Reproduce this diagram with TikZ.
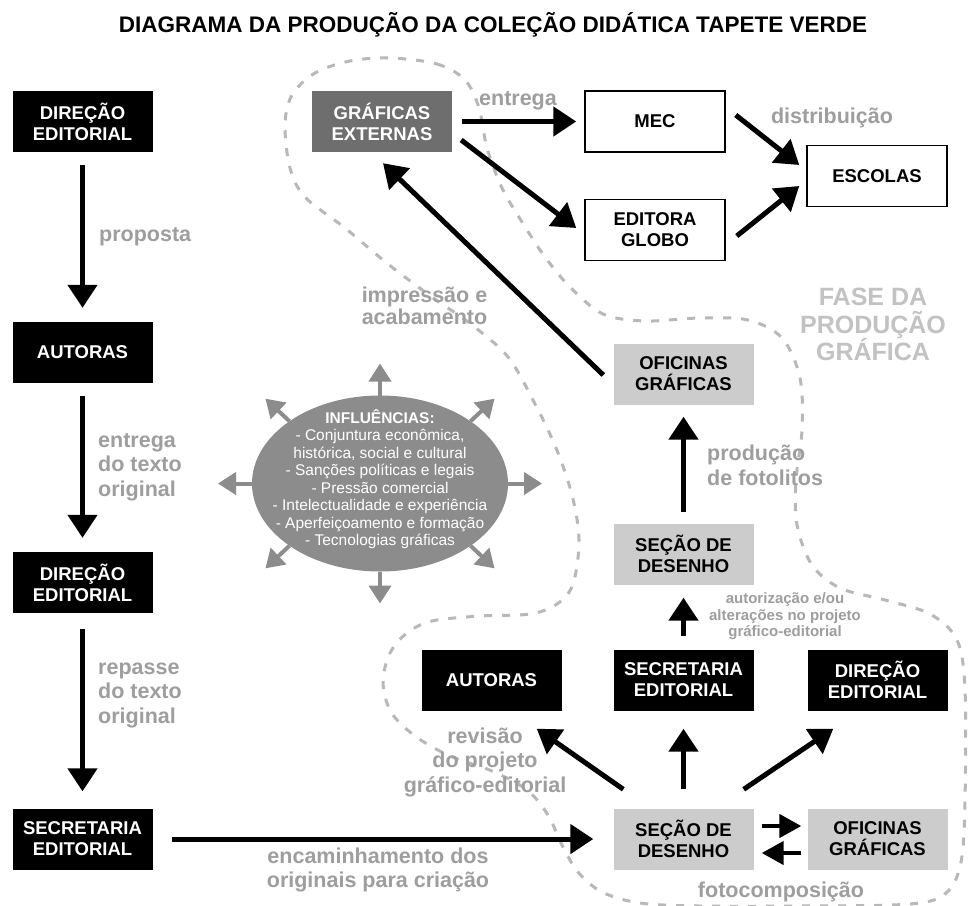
\documentclass[tikz,border=0pt]{standalone}
\usepackage{fontspec}
\setmainfont{Liberation Sans}
\usetikzlibrary{calc,shapes.geometric,arrows.meta}
\definecolor{lblgray}{gray}{0.62}
\definecolor{fasegray}{gray}{0.76}
\definecolor{dashgray}{gray}{0.72}
\definecolor{boxgray}{gray}{0.80}
\definecolor{extgray}{gray}{0.43}
\definecolor{inflgray}{gray}{0.55}
\newcommand{\boxfont}{\bfseries\fontsize{18.5}{21}\selectfont}
\newcommand{\lblfont}{\bfseries\fontsize{21.5}{24.5}\selectfont}

\begin{document}
\begin{tikzpicture}[x=1pt,y=-1pt,
    etapa/.style={rectangle, minimum width=140pt, minimum height=61pt, inner sep=0pt, align=center, font=\boxfont},
    preto/.style={etapa, fill=black, text=white},
    cinza/.style={etapa, fill=boxgray, text=black},
    externa/.style={etapa, fill=extgray, text=white},
    branco/.style={etapa, draw=black, line width=1.5pt, fill=white},
    seta/.style={line width=5pt, -{Triangle[length=23pt,width=29pt]}},
    setacurta/.style={line width=4.5pt, -{Triangle[length=22pt,width=23pt]}},
    setinha/.style={line width=4pt, draw=inflgray, -{Triangle[length=18pt,width=22pt]}},
    rotulo/.style={font=\lblfont, text=lblgray, inner sep=0pt}]
      \path[use as bounding box, fill=white] (0,0) rectangle (968,905);

      %% the dashed outline of the graphic production phase
      \draw[dashgray, line width=3pt, dash pattern=on 8pt off 10pt]
      plot[smooth cycle, tension=0.55] coordinates {(390,58) (437,64) (465,80)
      (479,108) (487,148) (502,188) (522,222) (545,257) (570,287) (603,314)
      (645,321) (700,318) (748,320) (782,338) (800,378) (802,430) (796,480)
      (797,525) (812,565) (840,588) (885,600) (930,614) (957,640) (965,690)
      (965,800) (961,862) (946,893) (910,904) (800,906) (700,906) (640,903)
      (602,892) (578,872) (562,845) (548,815) (527,790) (492,771) (450,756)
      (415,736) (391,712) (383,682) (390,653) (407,633) (432,621) (480,616)
      (530,614) (557,604) (573,584) (579,540) (572,495) (556,448) (534,402)
      (508,357) (472,325) (432,297) (388,264) (345,228) (305,197) (290,168)
      (285,125) (292,95) (315,73) (350,61)};

      \node (titulo) at (493,32) [anchor=base, font=\bfseries\fontsize{22.5}{27}\selectfont]
      {DIAGRAMA DA PRODUÇÃO DA COLEÇÃO DIDÁTICA TAPETE VERDE};

      %% left column
      \node (dirA) at (82.5,121.5) [preto] {DIREÇÃO\\EDITORIAL};
      \node (autA) at (82.5,352.5) [preto] {AUTORAS};
      \node (dirB) at (82.5,582.5) [preto] {DIREÇÃO\\EDITORIAL};
      \node (secA) at (82.5,839) [preto] {SECRETARIA\\EDITORIAL};
      \draw[seta, shorten <=13pt, shorten >=14pt] (dirA) to (autA);
      \draw[seta, shorten <=13pt, shorten >=14pt] (autA) to (dirB);
      \draw[seta, shorten <=16pt, shorten >=17pt] (dirB) to (secA);

      %% printing and distribution
      \node (graf) at (382,121.5) [externa] {GRÁFICAS\\EXTERNAS};
      \node (mec) at (655,121.5) [branco] {MEC};
      \node (globo) at (655,230) [branco] {EDITORA\\GLOBO};
      \node (escolas) at (877,176) [branco] {ESCOLAS};
      \draw[seta, shorten <=10pt, shorten >=8pt] (graf) to (mec);
      \draw[seta] ($(graf.east)+(9,18.5)$) to ($(globo.west)+(-8,-2)$);
      \draw[seta] ($(mec.east)+(10,-6.5)$) to ($(escolas.west)+(-7,-11)$);
      \draw[seta] ($(globo.east)+(11,6)$) to ($(escolas.west)+(-7,10)$);

      %% graphic production
      \node (ofiA) at (683.5,374) [cinza] {OFICINAS\\GRÁFICAS};
      \node (secaoA) at (683.5,554) [cinza] {SEÇÃO DE\\DESENHO};
      \node (autB) at (491.5,680) [preto] {AUTORAS};
      \node (secB) at (683.5,680) [preto] {SECRETARIA\\EDITORIAL};
      \node (dirC) at (877.5,680) [preto] {DIREÇÃO\\EDITORIAL};
      \node (secaoB) at (683.5,839) [cinza] {SEÇÃO DE\\DESENHO};
      \node (ofiB) at (877.5,839) [cinza] {OFICINAS\\GRÁFICAS};
      \draw[seta] ($(ofiA.west)+(-10,1)$) to ($(graf.south)+(1,11)$);
      \draw[seta, shorten <=11pt, shorten >=12pt] (secaoA) to (ofiA);
      \draw[seta, shorten <=13pt, shorten >=13pt] (secB) to (secaoA);
      \draw[seta] ($(secaoB.north west)+(10,-19)$) to ($(autB.south east)+(-25,18)$);
      \draw[seta, shorten <=19pt, shorten >=18pt] (secaoB) to (secB);
      \draw[seta] ($(secaoB.north east)+(-10,-19)$) to ($(dirC.south west)+(26,18)$);
      \draw[setacurta] ($(secaoB.east)+(8,-13)$) to ($(ofiB.west)+(-6,-13)$);
      \draw[setacurta] ($(ofiB.west)+(-6,14)$) to ($(secaoB.east)+(8,14)$);
      \draw[seta, shorten <=19pt, shorten >=20pt] (secA) to (secaoB);

      %% influences
      \node (infl) at (380,483.5) [ellipse, fill=inflgray, minimum width=256pt, minimum height=176pt, inner sep=0pt] {};
      \foreach \a in {0,45,...,315}
      { \coordinate (ponta\a) at ($(infl)+(\a:162 and 120)$);
        \draw[setinha] ($(infl)+(\a:128 and 88)$) to (ponta\a);}
      \node (infltexto) at (380,479) [text=white, align=center, font=\fontsize{15.5}{17.5}\selectfont]
      {\textbf{INFLUÊNCIAS:}\\- Conjuntura econômica,\\histórica, social e cultural\\- Sanções políticas e legais\\- Pressão comercial\\- Intelectualidade e experiência\\- Aperfeiçoamento e formação\\- Tecnologias gráficas};

      %% labels
      \node (lproposta) at (99,237) [rotulo, anchor=west] {proposta};
      \node (lentrega) at (98,467) [rotulo, anchor=west, align=left] {entrega\\do texto\\original};
      \node (lrepasse) at (98,695) [rotulo, anchor=west, align=left] {repasse\\do texto\\original};
      \node (lencam) at (378,870) [rotulo, align=center] {encaminhamento dos\\originais para criação};
      \node (lentrega2) at (518,101) [rotulo] {entrega};
      \node (ldistr) at (832,118) [rotulo] {distribuição};
      \node (limpr) at (424.5,306) [rotulo, align=center, font=\bfseries\fontsize{21.5}{22}\selectfont] {impressão e\\acabamento};
      \node (lfotolitos) at (707,465.5) [rotulo, anchor=west, align=left] {produção\\de fotolitos};
      \node (lautoriz) at (785,616.5) [rotulo, align=center, font=\bfseries\fontsize{15}{16.5}\selectfont] {autorização e/ou\\alterações no projeto\\gráfico-editorial};
      \node (lrevisao) at (485,762) [rotulo, align=center] {revisão\\do projeto\\gráfico-editorial};
      \node (lfoto) at (781,892) [rotulo] {fotocomposição};
      \node (lfase) at (873,324.5) [rotulo, text=fasegray, align=center, font=\bfseries\fontsize{25}{27.5}\selectfont] {FASE DA\\PRODUÇÃO\\GRÁFICA};
\end{tikzpicture}
\end{document}
